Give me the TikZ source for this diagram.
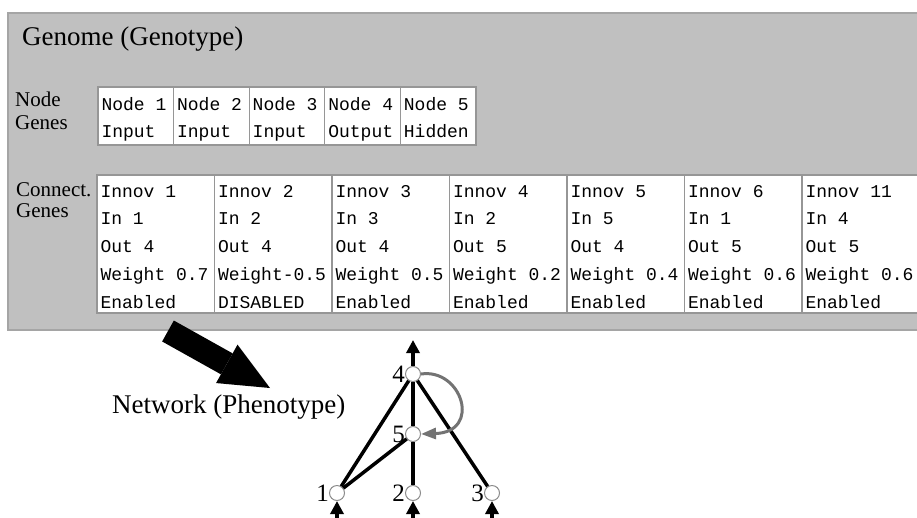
\documentclass[tikz,border=0pt]{standalone}
\usepackage{fontspec}
\setmainfont{Liberation Serif}
\setmonofont{Liberation Mono}
\usepackage{tikz}
\usetikzlibrary{arrows.meta,positioning}
\definecolor{panelgray}{RGB}{192,192,192}
\definecolor{panelline}{RGB}{165,165,165}
\definecolor{cellline}{RGB}{150,150,150}
\definecolor{neuronline}{RGB}{140,140,140}
\definecolor{recurgray}{RGB}{115,115,115}

\begin{document}
\begin{tikzpicture}[
        x=1pt, y=-1pt,
        panel/.style={fill=panelgray, draw=panelline, line width=1.5pt},
        heading/.style={anchor=base west, inner sep=0pt, font=\fontsize{27}{30}\selectfont},
        sidelabel/.style={anchor=north west, inner sep=0pt, align=left},
        ngene/.style={rectangle, draw=cellline, fill=white, line width=1.2pt, outer sep=0pt, inner xsep=3.5pt, inner ysep=0pt, text width=68.6pt, align=left, font=\fontsize{18}{27}\ttfamily, execute at begin node={\spaceskip=0.6em\relax\rule{0pt}{23pt}}, execute at end node={\rule[-8pt]{0pt}{8pt}}},
        cgene/.style={rectangle, draw=cellline, fill=white, line width=1.2pt, outer sep=0pt, inner xsep=3.5pt, inner ysep=0pt, text width=110.5pt, align=left, font=\fontsize{18}{27.75}\ttfamily, execute at begin node={\spaceskip=0.6em\relax\rule{0pt}{22pt}}, execute at end node={\rule[-5pt]{0pt}{5pt}}},
        neuron/.style={circle, draw=neuronline, fill=white, line width=1pt, minimum size=15pt, inner sep=0pt, label distance=1pt},
        numlabel/.style={inner sep=0pt, font=\fontsize{25}{25}\selectfont},
        edge/.style={line width=3.5pt},
        ioarrow/.style={line width=3.5pt, -{Triangle[length=13pt,width=13pt]}},
        recur/.style={draw=recurgray, line width=3pt, -{Triangle[length=15pt,width=11pt]}},
        bigarrow/.style={line width=24pt, -{Triangle[length=49.5pt,width=44pt,line width=0pt]}}
    ]
        \useasboundingbox (0,0) rectangle (917,517);

        % Genome panel
        \path[panel] (8,13) rectangle (930,330);
        \node[heading] (genome) at (22,45) {Genome (Genotype)};

        % Node genes
        \node[sidelabel, font=\fontsize{21}{23}\selectfont] (nglabel) at (15,92) {Node\\Genes};
        \node[ngene, anchor=north west] (ng1) at (98,87) {Node 1\\Input};
        \node[ngene, right=0pt of ng1] (ng2) {Node 2\\Input};
        \node[ngene, right=0pt of ng2] (ng3) {Node 3\\Input};
        \node[ngene, right=0pt of ng3] (ng4) {Node 4\\Output};
        \node[ngene, right=0pt of ng4] (ng5) {Node 5\\Hidden};

        % Connection genes
        \node[sidelabel, font=\fontsize{21}{21}\selectfont] (cglabel) at (16,182) {Connect.\\Genes};
        \node[cgene, anchor=north west] (cg1) at (97,175) {Innov 1\\In 1\\Out 4\\Weight 0.7\\Enabled};
        \node[cgene, right=0pt of cg1] (cg2) {Innov 2\\In 2\\Out 4\\Weight-0.5\\DISABLED};
        \node[cgene, right=0pt of cg2] (cg3) {Innov 3\\In 3\\Out 4\\Weight 0.5\\Enabled};
        \node[cgene, right=0pt of cg3] (cg4) {Innov 4\\In 2\\Out 5\\Weight 0.2\\Enabled};
        \node[cgene, right=0pt of cg4] (cg5) {Innov 5\\In 5\\Out 4\\Weight 0.4\\Enabled};
        \node[cgene, right=0pt of cg5] (cg6) {Innov 6\\In 1\\Out 5\\Weight 0.6\\Enabled};
        \node[cgene, right=0pt of cg6] (cg7) {Innov 11\\In 4\\Out 5\\Weight 0.6\\Enabled};

        % Genotype to phenotype
        \coordinate (gtail) at (168,331);
        \coordinate (ptip) at (270,388);
        \draw[bigarrow] (gtail) -- (ptip);
        \node[heading] (pheno) at (112,413) {Network (Phenotype)};

        % Network
        \node[neuron, label={[numlabel]left:4}] (n4) at (413,374) {};
        \node[neuron, label={[numlabel]left:5}] (n5) at (413,434) {};
        \node[neuron, label={[numlabel]left:1}] (n1) at (337,493) {};
        \node[neuron, label={[numlabel]left:2}] (n2) at (413,493) {};
        \node[neuron, label={[numlabel]left:3}] (n3) at (492,493) {};
        \coordinate (out4) at (413,340);
        \coordinate (in1) at (337,518);
        \coordinate (in2) at (413,518);
        \coordinate (in3) at (492,518);

        \draw[edge] (n1) -- (n4);
        \draw[edge] (n1) -- (n5);
        \draw[edge] (n2) -- (n5);
        \draw[edge] (n5) -- (n4);
        \draw[edge] (n3) -- (n4);
        \draw[ioarrow] (n4) -- (out4);
        \draw[ioarrow] (in1) -- (n1);
        \draw[ioarrow] (in2) -- (n2);
        \draw[ioarrow] (in3) -- (n3);
        \draw[recur] (n4.east) .. controls (462,368) and (482,432) .. (n5.east);

    \end{tikzpicture}
\end{document}
